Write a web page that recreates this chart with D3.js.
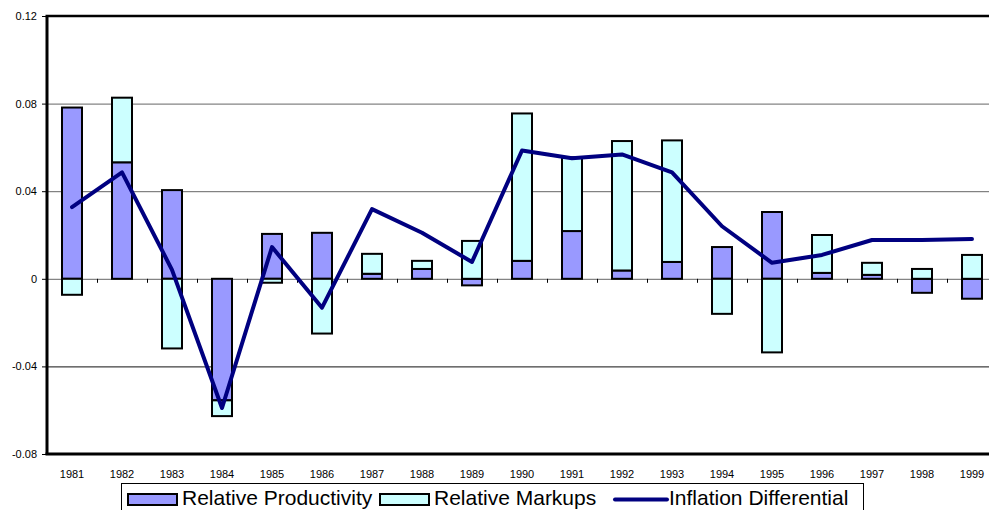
<!DOCTYPE html>
<html>
<head>
<meta charset="utf-8">
<script src="https://cdn.jsdelivr.net/npm/d3@7"></script>
<style>
  html, body { margin: 0; padding: 0; background: #fff; overflow: hidden; }
  svg { display: block; font-family: "Liberation Sans", Arial, sans-serif; }
</style>
</head>
<body>
<svg id="chart" width="989" height="510"></svg>
<script>
const years = ['1981', '1982', '1983', '1984', '1985', '1986', '1987', '1988', '1989', '1990',
  '1991', '1992', '1993', '1994', '1995', '1996', '1997', '1998', '1999'];

const productivity = [0.0782, 0.0532, 0.0405, -0.0555, 0.0205, 0.021, 0.0023, 0.0045, -0.003, 0.0082,
  0.0218, 0.0038, 0.0077, 0.0145, 0.0305, 0.0027, 0.0018, -0.0064, -0.0091];

const markups = [-0.0073, 0.0295, -0.0318, -0.0072, -0.0018, -0.025, 0.0091, 0.0037, 0.0173, 0.0673,
  0.0337, 0.0591, 0.0555, -0.016, -0.0336, 0.0173, 0.0055, 0.0045, 0.0109];

const inflation = [0.0327, 0.0486, 0.0041, -0.059, 0.0145, -0.0132, 0.0318, 0.021, 0.0077, 0.0586,
  0.055, 0.0568, 0.0486, 0.024, 0.0073, 0.0109, 0.0177, 0.0177, 0.0182];

const yTicks = [-0.08, -0.04, 0, 0.04, 0.08, 0.12];

const margin = { top: 16, left: 47 };
const innerWidth = 950;
const innerHeight = 438;

const svg = d3.select('#chart');
const g = svg.append('g').attr('transform', `translate(${margin.left},${margin.top})`);

// plain hyphen for negatives, like the original
const fmt = d3.formatLocale({ decimal: '.', thousands: ',', grouping: [3], currency: ['', ''], minus: '-' }).format('.2f');

// scales
const x = d3.scaleBand().domain(years).range([0, innerWidth]).paddingInner(0.6).paddingOuter(0.3);
const xEdge = d3.scaleLinear().domain([0, years.length]).range([0, innerWidth]);
const y = d3.scaleLinear().domain([-0.08, 0.12]).range([innerHeight, 0]);

// gridlines
g.append('g')
  .call(d3.axisLeft(y).tickValues(yTicks.filter(d => d !== -0.08 && d !== 0.12)).tickSize(-innerWidth).tickFormat(''))
  .call(s => s.select('.domain').remove())
  .call(s => s.selectAll('line').attr('stroke', d => d < 0 ? '#111' : '#666').attr('stroke-width', 1));

// y axis labels + ticks
g.append('g')
  .call(d3.axisLeft(y).tickValues(yTicks).tickSize(5).tickPadding(5)
    .tickFormat(d => d === 0 ? '0' : fmt(d)))
  .call(s => s.select('.domain').remove())
  .call(s => s.selectAll('line').attr('stroke', '#000'))
  .call(s => s.selectAll('text').attr('font-size', 11).attr('fill', '#000')
    .style('font-family', '"Liberation Sans", Arial, sans-serif'));

// stacked bars
const rows = years.map((yr, i) => ({ year: yr, productivity: productivity[i], markups: markups[i] }));
const stacked = d3.stack()
  .keys(['productivity', 'markups'])
  .offset(d3.stackOffsetDiverging)(rows);

const colors = { productivity: '#9999FF', markups: '#CCFFFF' };

g.selectAll('g.series')
  .data(stacked)
  .join('g')
  .attr('class', 'series')
  .attr('fill', d => colors[d.key])
  .selectAll('rect')
  .data(d => d)
  .join('rect')
  .attr('x', d => x(d.data.year))
  .attr('width', x.bandwidth())
  .attr('y', d => y(Math.max(d[0], d[1])))
  .attr('height', d => Math.abs(y(d[0]) - y(d[1])))
  .attr('stroke', '#000')
  .attr('stroke-width', 2);

// zero line ticks between categories
g.append('g')
  .attr('transform', `translate(0,${y(0)})`)
  .call(d3.axisBottom(xEdge).tickValues(d3.range(1, years.length)).tickSize(4).tickFormat(''))
  .call(s => s.select('.domain').remove())
  .call(s => s.selectAll('line').attr('stroke', '#000'));

// inflation line
const line = d3.line()
  .x((d, i) => x(years[i]) + x.bandwidth() / 2)
  .y(d => y(d));

g.append('path')
  .datum(inflation)
  .attr('d', line)
  .attr('fill', 'none')
  .attr('stroke', '#000080')
  .attr('stroke-width', 4)
  .attr('stroke-linejoin', 'round')
  .attr('stroke-linecap', 'round');

// x axis labels
g.append('g')
  .attr('transform', `translate(0,${innerHeight})`)
  .call(d3.axisBottom(x).tickSize(0).tickPadding(16))
  .call(s => s.select('.domain').remove())
  .call(s => s.selectAll('text').attr('font-size', 11).attr('fill', '#000')
    .style('font-family', '"Liberation Sans", Arial, sans-serif'));

// frame: left, bottom, top
g.append('line').attr('x1', 0).attr('x2', 0).attr('y1', 0).attr('y2', innerHeight)
  .attr('stroke', '#000').attr('stroke-width', 3);
g.append('line').attr('x1', -1.5).attr('x2', innerWidth).attr('y1', innerHeight).attr('y2', innerHeight)
  .attr('stroke', '#000').attr('stroke-width', 3);
g.append('line').attr('x1', -1.5).attr('x2', innerWidth).attr('y1', 0).attr('y2', 0)
  .attr('stroke', '#000').attr('stroke-width', 2.5);

// legend
const legend = svg.append('g');
legend.append('rect')
  .attr('x', 121.5).attr('y', 483.5).attr('width', 742).attr('height', 40)
  .attr('fill', '#fff').attr('stroke', '#000').attr('stroke-width', 1);

const legendItems = [
  { label: 'Relative Productivity', type: 'rect', color: colors.productivity, x: 128 },
  { label: 'Relative Markups', type: 'rect', color: colors.markups, x: 380 },
  { label: 'Inflation Differential', type: 'line', color: '#000080', x: 615 }
];

legendItems.forEach(item => {
  if (item.type === 'rect') {
    legend.append('rect')
      .attr('x', item.x).attr('y', 494).attr('width', 49).attr('height', 11)
      .attr('fill', item.color).attr('stroke', '#000').attr('stroke-width', 2);
  } else {
    legend.append('line')
      .attr('x1', item.x).attr('x2', item.x + 52).attr('y1', 499.5).attr('y2', 499.5)
      .attr('stroke', item.color).attr('stroke-width', 4).attr('stroke-linecap', 'round');
  }
  legend.append('text')
    .attr('x', item.x + 54).attr('y', 504.5)
    .attr('font-size', 21).text(item.label);
});
</script>
</body>
</html>
